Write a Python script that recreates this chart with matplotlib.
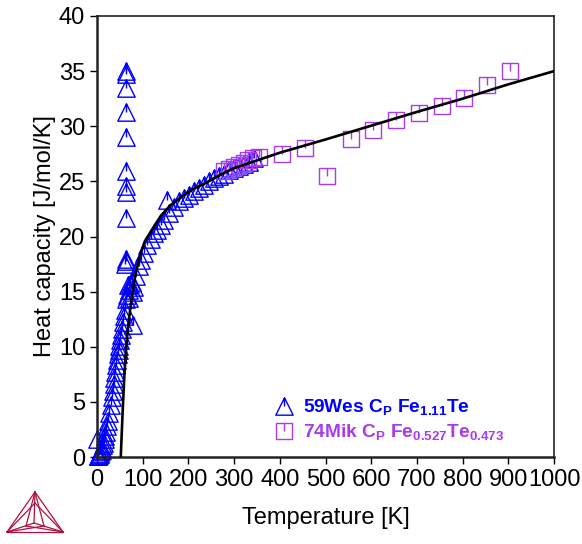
#!/usr/bin/env python
# Heat capacity of Fe-Te: calculated curve vs. experimental data

import numpy as np
import matplotlib
matplotlib.use('Agg')
import matplotlib.pyplot as plt
from matplotlib.path import Path
from matplotlib.lines import Line2D

plt.rcParams['font.family'] = ['Liberation Sans', 'DejaVu Sans']

# calculated curve
calc_T = [52, 56, 60, 65, 70, 77, 85, 95, 105, 120, 140, 160, 185, 210, 240,
          270, 300, 350, 400, 500, 600, 700, 800, 900, 1000]
calc_cp = [0, 4.0, 7.5, 10.5, 12.5, 14.8, 16.7, 18.4, 19.6, 20.6, 21.9, 22.8,
           23.6, 24.3, 24.9, 25.6, 26.2, 26.9, 27.6, 28.8, 30.05, 31.3, 32.5,
           33.8, 35.0]

# 59Wes Cp Fe1.11Te
wes_T = [1, 1.5, 3, 4.5, 6, 7.5, 9, 10.5, 12, 13.5, 15, 16.5, 18, 20, 22, 24,
         27, 30, 32.5, 34.5, 36.5, 38, 39.5, 41.5, 43.5, 45.5, 47.5, 49, 51,
         53, 54.5, 56.5, 58.5, 60.5,
         62, 62.5, 63, 63, 63.5, 63, 63.5, 63, 64, 62.5, 63.5, 64.5,
         64, 66, 67, 69, 71, 73, 76, 78, 80.5, 78,
         85, 92, 96, 103, 110, 118, 125, 132, 140, 147, 154, 158, 169, 180,
         191, 201.5, 212.5, 223, 234, 245, 256, 267, 278, 289, 300, 311, 322,
         333, 344]
wes_cp = [1.6, 0.05, 0.1, 0.15, 0.25, 0.35, 0.5, 0.65, 0.85, 1.05, 1.3, 1.6,
          1.9, 2.3, 2.8, 3.3, 4.0, 4.7, 5.4, 6.0, 6.6, 7.2, 7.7, 8.3, 8.8, 9.3,
          9.7, 10.1, 10.6, 11.1, 11.6, 12.2, 12.8, 13.3,
          17.5, 17.8, 18.0, 21.7, 24.0, 24.6, 25.9, 29.0, 31.3, 33.5, 34.7, 35.0,
          14.3, 14.7, 15.6, 14.4, 15.15, 15.7, 15.9, 15.0, 15.45, 12.0,
          16.4, 17.3, 17.9, 18.5, 19.2, 19.8, 20.3, 20.6, 21.0, 21.5, 23.3,
          22.1, 22.7, 23.2, 23.5, 23.8, 24.1, 24.4, 24.7, 25.0, 25.3, 25.5,
          25.7, 26.0, 26.2, 26.4, 26.6, 26.8, 27.1]

# 74Mik Cp Fe0.527Te0.473
mik_T = [278, 289, 300, 311, 322, 331, 342, 355, 404, 455, 504, 555, 604,
         654, 705, 754, 804, 854, 904]
mik_cp = [25.9, 26.1, 26.3, 26.5, 26.7, 26.9, 27.1, 27.2, 27.5, 28.0, 25.5,
          28.85, 29.7, 30.6, 31.2, 31.8, 32.6, 33.7, 35.0]

blue = '#0000FF'
purple = '#A83CEB'

M, L, C = Path.MOVETO, Path.LINETO, Path.CLOSEPOLY
tri = Path([(0, 1), (-1, -1), (1, -1), (0, 1), (0, 1), (0, 0)],
           [M, L, L, C, M, L])
sq = Path([(-1, -1), (1, -1), (1, 1), (-1, 1), (-1, -1), (0, 1), (0, 0)],
          [M, L, L, L, C, M, L])

fig = plt.figure(figsize=(5.82, 5.44), dpi=100)
ax = fig.add_axes([97 / 582, 1 - 457 / 544, 457 / 582, 441 / 544])

ax.plot(calc_T, calc_cp, color='black', lw=1.9, zorder=3)
ax.plot(wes_T, wes_cp, ls='none', marker=tri, ms=12.5, mfc='none', mec=blue,
        mew=1.0, clip_on=False,
        label=r'59Wes C$\mathregular{_P}$ Fe$\mathregular{_{1.11}}$Te')
ax.plot(mik_T, mik_cp, ls='none', marker=sq, ms=12, mfc='none', mec=purple,
        mew=1.0,
        label=r'74Mik C$\mathregular{_P}$ Fe$\mathregular{_{0.527}}$Te$\mathregular{_{0.473}}$')

ax.set_xlim(0, 1000)
ax.set_ylim(0, 40)
ax.set_xticks(np.arange(0, 1001, 100))
ax.set_yticks(np.arange(0, 41, 5))
ax.tick_params(labelsize=17, length=5, width=1, direction='out')
ax.set_xlabel('Temperature [K]', fontsize=17, labelpad=12)
ax.set_ylabel('Heat capacity [J/mol/K]', fontsize=17, labelpad=2)
for s in ax.spines.values():
    s.set_linewidth(1.2)
    s.set_color('#222222')
ax.spines['left'].set_linewidth(1.8)
ax.spines['bottom'].set_linewidth(1.8)

leg = ax.legend(loc='upper left', bbox_to_anchor=(0.39, 0.135), frameon=False,
                prop={'weight': 'bold', 'size': 13.8}, handlelength=0.9,
                handletextpad=0.55, borderpad=0, borderaxespad=0,
                labelspacing=0.25, labelcolor=[blue, purple])

# Thermo-Calc logo
red = '#B01040'
top, bl, br, mid = (35, 492), (7, 532), (63, 532), (34, 523)
inner = [(35, 503), (26, 526), (44, 526)]
segs = [(top, bl), (bl, br), (br, top), (top, mid), (bl, mid), (br, mid),
        (top, inner[1]), (top, inner[2]), (bl, inner[0]), (br, inner[0]),
        (bl, inner[2]), (br, inner[1])]
for a, b in segs:
    fig.add_artist(Line2D([a[0] / 582, b[0] / 582], [1 - a[1] / 544, 1 - b[1] / 544],
                          color=red, lw=0.9, transform=fig.transFigure))

fig.savefig('out.png', dpi=100)
